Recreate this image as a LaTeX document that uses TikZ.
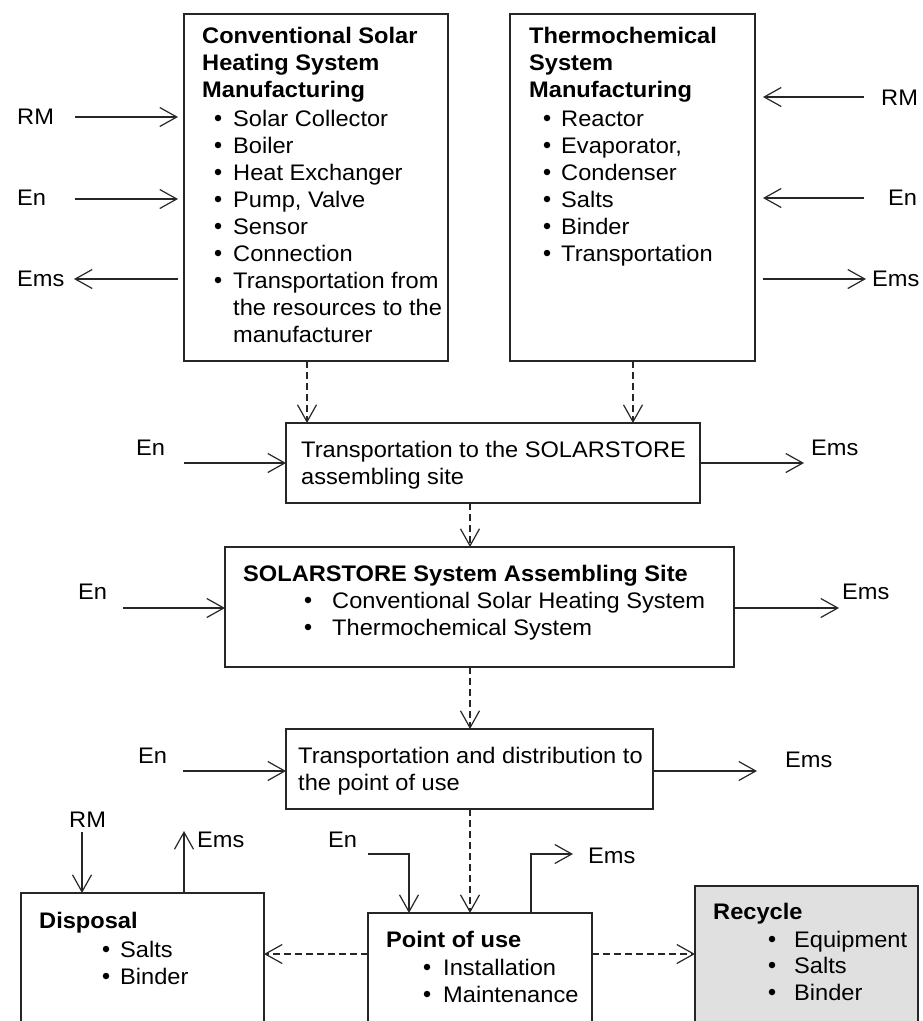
\documentclass[tikz,border=0pt]{standalone}
\usepackage{fontspec}
\setmainfont{Liberation Sans}[FakeStretch=1.05]
\usetikzlibrary{arrows.meta}
\tikzset{
  box/.style={draw=black!85, line width=1.3pt, inner sep=0pt, outer sep=0pt, anchor=north west},
  lbl/.style={inner sep=0pt, anchor=base west},
  bul/.style={circle, fill=black, inner sep=0pt, minimum size=6.5pt},
  arr/.style={draw=black!85, line width=1.2pt, -{Straight Barb[length=17pt,width=19pt]}},
  darr/.style={arr, dash pattern=on 7pt off 4pt},
}
\begin{document}
\begin{tikzpicture}[x=1pt,y=-1pt,font=\fontsize{22.5}{27}\selectfont]
\useasboundingbox (0,0) rectangle (923,1021);
\clip (0,0) rectangle (923,1021);

% ---------- boxes ----------
\node[box, minimum width=264pt, minimum height=347pt] (csh) at (184,14) {};
\node[box, minimum width=245pt, minimum height=347pt] (thm) at (510,14) {};
\node[box, minimum width=414pt, minimum height=80pt] (t1) at (286,423) {};
\node[box, minimum width=509pt, minimum height=120pt] (sa) at (225,547) {};
\node[box, minimum width=367pt, minimum height=80pt] (t2) at (286,729) {};
\node[box, minimum width=243pt, minimum height=160pt] (disp) at (21,893) {};
\node[box, minimum width=224pt, minimum height=140pt] (pou) at (368,913) {};
\node[box, fill=black!12, minimum width=223pt, minimum height=160pt] (rec) at (695,886) {};

% ---------- box texts ----------
\node[lbl] (csh-h1) at (202,43.5) {\bfseries Conventional Solar};
\node[lbl] (csh-h2) at (202,70.5) {\bfseries Heating System};
\node[lbl] (csh-h3) at (202,97.5) {\bfseries Manufacturing};
\foreach \y/\t [count=\i] in {126/Solar Collector,153/Boiler,180/Heat Exchanger,207/{Pump, Valve},234/Sensor,261/Connection,288/Transportation from}{
  \node[bul] (csh-d\i) at (218,\y-8) {};
  \node[lbl] (csh-b\i) at (233,\y) {\t};
}
\node[lbl] (csh-b8) at (233,315) {the resources to the};
\node[lbl] (csh-b9) at (233,342) {manufacturer};

\node[lbl] (thm-h1) at (529,43.5) {\bfseries Thermochemical};
\node[lbl] (thm-h2) at (529,70.5) {\bfseries System};
\node[lbl] (thm-h3) at (529,97.5) {\bfseries Manufacturing};
\foreach \y/\t [count=\i] in {126/Reactor,153/{Evaporator,},180/Condenser,207/Salts,234/Binder,261/Transportation}{
  \node[bul] (thm-d\i) at (547,\y-8) {};
  \node[lbl] (thm-b\i) at (561,\y) {\t};
}

\node[lbl] (t1-a) at (301,457) {Transportation to the SOLARSTORE};
\node[lbl] (t1-b) at (301,484) {assembling site};

\node[lbl] (sa-h) at (243,581) {\bfseries SOLARSTORE System Assembling Site};
\node[bul] (sa-d1) at (308,600) {};
\node[lbl] (sa-b1) at (332,608) {Conventional Solar Heating System};
\node[bul] (sa-d2) at (308,627) {};
\node[lbl] (sa-b2) at (332,635) {Thermochemical System};

\node[lbl] (t2-a) at (298,763) {Transportation and distribution to};
\node[lbl] (t2-b) at (298,790) {the point of use};

\node[lbl] (disp-h) at (39,928) {\bfseries Disposal};
\foreach \y/\t [count=\i] in {957/Salts,984/Binder}{
  \node[bul] (disp-d\i) at (106,\y-8) {};
  \node[lbl] (disp-b\i) at (120,\y) {\t};
}

\node[lbl] (pou-h) at (386,947) {\bfseries Point of use};
\foreach \y/\t [count=\i] in {975/Installation,1002/Maintenance}{
  \node[bul] (pou-d\i) at (427,\y-8) {};
  \node[lbl] (pou-b\i) at (443,\y) {\t};
}

\node[lbl] (rec-h) at (713,919) {\bfseries Recycle};
\foreach \y/\t [count=\i] in {947/Equipment,973/Salts,1000/Binder}{
  \node[bul] (rec-d\i) at (772,\y-8) {};
  \node[lbl] (rec-b\i) at (794,\y) {\t};
}

% ---------- flow labels ----------
\node[lbl] (l-rm1) at (17,124) {RM};
\node[lbl] (l-en1) at (17,205) {En};
\node[lbl] (l-em1) at (17,286) {Ems};
\node[lbl] (l-rm2) at (881,105) {RM};
\node[lbl] (l-en2) at (888,205) {En};
\node[lbl] (l-em2) at (872,286) {Ems};
\node[lbl] (l-en3) at (136,455) {En};
\node[lbl] (l-em3) at (811,455) {Ems};
\node[lbl] (l-en4) at (78,599) {En};
\node[lbl] (l-em4) at (842,599) {Ems};
\node[lbl] (l-en5) at (138,763) {En};
\node[lbl] (l-em5) at (785,767) {Ems};
\node[lbl] (l-rm6) at (69,827) {RM};
\node[lbl] (l-em6) at (197,847) {Ems};
\node[lbl] (l-en7) at (328,847) {En};
\node[lbl] (l-em7) at (588,863) {Ems};

% ---------- free ends ----------
\coordinate (rm1) at (75,117);
\coordinate (en1) at (75,199);
\coordinate (em1) at (74,279);
\coordinate (rm2) at (864,97);
\coordinate (en2) at (864,198);
\coordinate (em2) at (866,279);
\coordinate (en3) at (184,463);
\coordinate (em3) at (804,463);
\coordinate (en4) at (123,608);
\coordinate (em4) at (839,608);
\coordinate (en5) at (183,771);
\coordinate (em5) at (757,771);
\coordinate (rm6) at (82,832);
\coordinate (em6) at (184,831);
\coordinate (en7) at (368,854);
\coordinate (em7) at (573,854);
\coordinate (pouIn) at (409,913);
\coordinate (pouOut) at (531,913);
\coordinate (dispIn) at (82,893);
\coordinate (dispOut) at (184,893);
\coordinate (dc) at (307,361);
\coordinate (dt) at (633,361);
\coordinate (dm) at (470,0);
\coordinate (dh) at (0,954);

% ---------- solid connectors ----------
\draw[arr, shorten >=6pt] (rm1) -- (csh.west |- rm1);
\draw[arr, shorten >=6pt] (en1) -- (csh.west |- en1);
\draw[arr, shorten <=6pt] (csh.west |- em1) -- (em1);
\draw[arr, shorten >=8pt] (rm2) -- (thm.east |- rm2);
\draw[arr, shorten >=8pt] (en2) -- (thm.east |- en2);
\draw[arr, shorten <=8pt] (thm.east |- em2) -- (em2);
\draw[arr] (en3) -- (t1.west |- en3);
\draw[arr] (t1.east |- em3) -- (em3);
\draw[arr] (en4) -- (sa.west |- en4);
\draw[arr] (sa.east |- em4) -- (em4);
\draw[arr] (en5) -- (t2.west |- en5);
\draw[arr] (t2.east |- em5) -- (em5);
\draw[arr] (rm6) -- (dispIn);
\draw[arr] (dispOut) -- (em6);
\draw[arr] (en7) -| (pouIn);
\draw[arr] (pouOut) |- (em7);

% ---------- dashed connectors ----------
\draw[darr] (dc) -- (dc |- t1.north);
\draw[darr] (dt) -- (dt |- t1.north);
\draw[darr] (dm |- t1.south) -- (dm |- sa.north);
\draw[darr] (dm |- sa.south) -- (dm |- t2.north);
\draw[darr] (dm |- t2.south) -- (dm |- pou.north);
\draw[darr] (pou.west |- dh) -- (disp.east |- dh);
\draw[darr] (pou.east |- dh) -- (rec.west |- dh);
\end{tikzpicture}
\end{document}
